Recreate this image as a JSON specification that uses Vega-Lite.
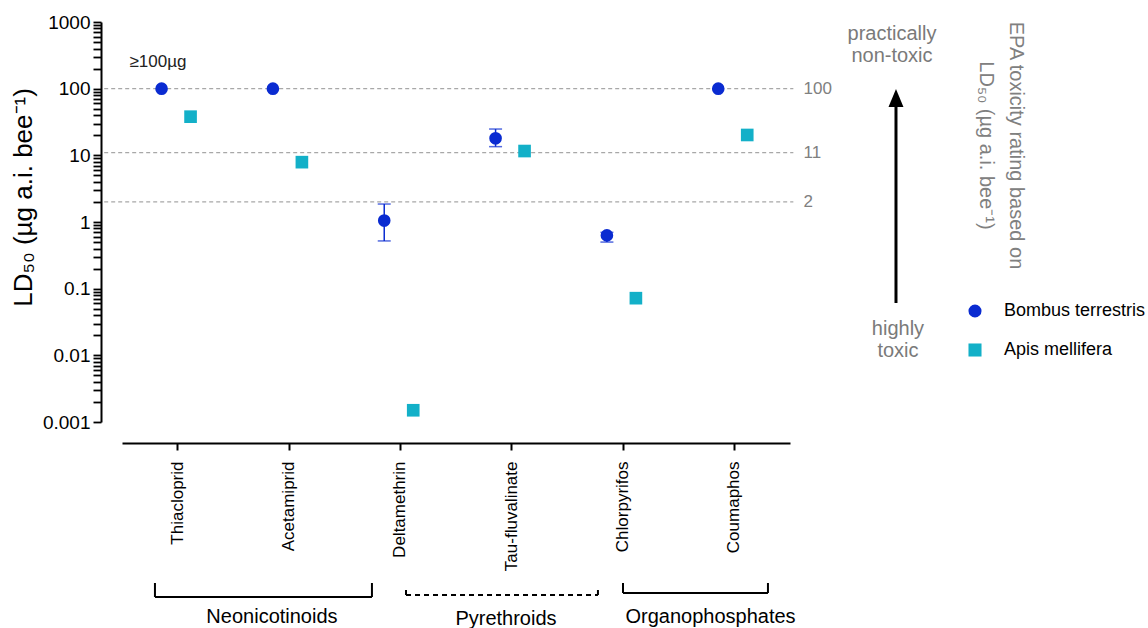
{
  "$schema": "https://vega.github.io/schema/vega-lite/v6.json",
  "width": 668,
  "height": 400,
  "autosize": {"type": "none"},
  "padding": {"left": 122, "top": 22, "right": 358, "bottom": 206},
  "background": "white",
  "config": {
    "view": {"stroke": null},
    "font": "Liberation Sans",
    "axis": {"labelFont": "Liberation Sans", "titleFont": "Liberation Sans"},
    "legend": {"labelFont": "Liberation Sans"},
    "text": {"font": "Liberation Sans"}
  },
  "datasets": {
    "ld50": [
      {"drug": "Thiacloprid", "species": "Bombus terrestris", "ld50": 100},
      {"drug": "Thiacloprid", "species": "Apis mellifera", "ld50": 38},
      {"drug": "Acetamiprid", "species": "Bombus terrestris", "ld50": 100},
      {"drug": "Acetamiprid", "species": "Apis mellifera", "ld50": 7.9},
      {"drug": "Deltamethrin", "species": "Bombus terrestris", "ld50": 1.05, "lo": 0.52, "hi": 1.86},
      {"drug": "Deltamethrin", "species": "Apis mellifera", "ld50": 0.0015},
      {"drug": "Tau-fluvalinate", "species": "Bombus terrestris", "ld50": 18, "lo": 13.5, "hi": 24.8},
      {"drug": "Tau-fluvalinate", "species": "Apis mellifera", "ld50": 11.6},
      {"drug": "Chlorpyrifos", "species": "Bombus terrestris", "ld50": 0.63, "lo": 0.5, "hi": 0.7},
      {"drug": "Chlorpyrifos", "species": "Apis mellifera", "ld50": 0.072},
      {"drug": "Coumaphos", "species": "Bombus terrestris", "ld50": 100},
      {"drug": "Coumaphos", "species": "Apis mellifera", "ld50": 20.2}
    ],
    "thresholds": [{"level": 100}, {"level": 11}, {"level": 2}],
    "brackets": [
      {"group": "Neonicotinoids", "style": "solid", "x1": 0.796, "x2": 2.745, "y1": 2.37e-6, "y2": 2.37e-6},
      {"group": "Neonicotinoids", "style": "solid", "x1": 0.796, "x2": 0.796, "y1": 2.37e-6, "y2": 3.85e-6},
      {"group": "Neonicotinoids", "style": "solid", "x1": 2.745, "x2": 2.745, "y1": 2.37e-6, "y2": 3.85e-6},
      {"group": "Pyrethroids", "style": "dashed", "x1": 3.051, "x2": 4.775, "y1": 2.54e-6, "y2": 2.54e-6},
      {"group": "Pyrethroids", "style": "dashed", "x1": 3.051, "x2": 3.051, "y1": 2.54e-6, "y2": 3.35e-6},
      {"group": "Pyrethroids", "style": "dashed", "x1": 4.775, "x2": 4.775, "y1": 2.54e-6, "y2": 3.35e-6},
      {"group": "Organophosphates", "style": "solid", "x1": 5.0, "x2": 6.302, "y1": 2.72e-6, "y2": 2.72e-6},
      {"group": "Organophosphates", "style": "solid", "x1": 5.0, "x2": 5.0, "y1": 2.72e-6, "y2": 3.85e-6},
      {"group": "Organophosphates", "style": "solid", "x1": 6.302, "x2": 6.302, "y1": 2.72e-6, "y2": 3.85e-6}
    ],
    "classes": [
      {"label": "Neonicotinoids", "x": 1.847, "y": 1.19e-6},
      {"label": "Pyrethroids", "x": 3.949, "y": 1.1e-6},
      {"label": "Organophosphates", "x": 5.786, "y": 1.19e-6}
    ],
    "toxicity": [
      {"label": "practically\nnon-toxic", "x": 7.416, "y": 661},
      {"label": "highly\ntoxic", "x": 7.47, "y": 0.0248}
    ],
    "arrow": [{"x": 7.452, "lo": 0.061, "hi": 60, "head": 72.4}],
    "note": [{"label": "≥100µg", "x": 0.823, "y": 251}]
  },
  "layer": [
    {
      "data": {"name": "thresholds"},
      "mark": {"type": "rule", "color": "#a8a8a8", "strokeWidth": 1.2, "strokeDash": [4, 3]},
      "encoding": {
        "x": {"datum": 0.34, "type": "quantitative", "scale": {"domain": [0.5, 6.5], "nice": false, "zero": false}, "axis": null},
        "x2": {"datum": 6.53},
        "y": {
          "field": "level", "type": "quantitative",
          "scale": {"type": "log", "domain": [0.001, 1000], "nice": false},
          "axis": {
            "orient": "right", "values": [100, 11, 2], "ticks": false, "tickSize": 0, "domain": false, "grid": false,
            "labelColor": "#808080", "labelFontSize": 17, "labelPadding": 13, "labelExpr": "format(datum.value, '~g')",
            "title": ["EPA toxicity rating based on", "LD₅₀ (µg a.i. bee⁻¹)"],
            "titleAngle": 90, "titleColor": "#808080", "titleFontSize": 20, "titleFontWeight": "normal",
            "titleAlign": "center", "titleBaseline": "top", "titleLineHeight": 30, "titleX": 235, "titleY": 123
          }
        }
      }
    },
    {
      "data": {"name": "ld50"},
      "encoding": {
        "x": {
          "field": "drug", "type": "nominal",
          "scale": {"domain": ["Thiacloprid", "Acetamiprid", "Deltamethrin", "Tau-fluvalinate", "Chlorpyrifos", "Coumaphos"], "paddingInner": 0, "paddingOuter": 0},
          "axis": {"title": null, "orient": "bottom", "offset": 21, "labelAngle": -90, "labelFontSize": 17, "labelColor": "black", "labelPadding": 11, "tickSize": 7, "tickWidth": 2, "tickColor": "black", "domainColor": "black", "domainWidth": 2, "grid": false}
        },
        "xOffset": {
          "field": "species", "type": "nominal",
          "scale": {"domain": ["Bombus terrestris", "Apis mellifera"], "paddingInner": 0, "paddingOuter": 0.92, "align": 0.47}
        }
      },
      "layer": [
        {
          "transform": [{"filter": "isValid(datum.lo)"}],
          "mark": {"type": "rule", "color": "#0a2bd1", "strokeWidth": 1.5},
          "encoding": {
            "y": {
              "field": "lo", "type": "quantitative",
              "scale": {"type": "log", "domain": [0.001, 1000], "nice": false},
              "axis": {
                "orient": "left", "offset": 21, "grid": false,
                "title": "LD₅₀ (µg a.i. bee⁻¹)", "titleFontSize": 26, "titleFontWeight": "normal", "titleColor": "black", "titlePadding": 6, "titleY": 175,
                "values": [0.001, 0.002, 0.003, 0.004, 0.005, 0.006, 0.007, 0.008, 0.009, 0.01, 0.02, 0.03, 0.04, 0.05, 0.06, 0.07, 0.08, 0.09, 0.1, 0.2, 0.3, 0.4, 0.5, 0.6, 0.7, 0.8, 0.9, 1, 2, 3, 4, 5, 6, 7, 8, 9, 10, 20, 30, 40, 50, 60, 70, 80, 90, 100, 200, 300, 400, 500, 600, 700, 800, 900, 1000],
                "labelExpr": "abs(log(datum.value)/LN10 - round(log(datum.value)/LN10)) < 0.001 ? format(datum.value, '~g') : ''",
                "labelFontSize": 19, "labelColor": "black", "labelPadding": 3, "labelOverlap": false, "labelFlush": false,
                "tickSize": 8,
                "tickWidth": 1.8, "tickColor": "black", "domainColor": "black", "domainWidth": 2,
                "encoding": {
                  "ticks": {
                    "update": {
                      "x2": {"signal": "abs(log(datum.value)/LN10 - round(log(datum.value)/LN10)) < 0.001 ? -8 : -4.5"}
                    }
                  }
                }
              }
            },
            "y2": {"field": "hi"}
          }
        },
        {
          "transform": [{"filter": "isValid(datum.lo)"}],
          "mark": {"type": "tick", "color": "#0a2bd1", "size": 13, "thickness": 1.5, "orient": "horizontal"},
          "encoding": {"y": {"field": "lo", "type": "quantitative", "scale": {"type": "log", "domain": [0.001, 1000], "nice": false}}}
        },
        {
          "transform": [{"filter": "isValid(datum.hi)"}],
          "mark": {"type": "tick", "color": "#0a2bd1", "size": 13, "thickness": 1.5, "orient": "horizontal"},
          "encoding": {"y": {"field": "hi", "type": "quantitative", "scale": {"type": "log", "domain": [0.001, 1000], "nice": false}}}
        },
        {
          "mark": {"type": "point", "filled": true, "opacity": 1, "size": 160},
          "encoding": {
            "y": {"field": "ld50", "type": "quantitative", "scale": {"type": "log", "domain": [0.001, 1000], "nice": false}},
            "color": {
              "field": "species", "type": "nominal",
              "scale": {"domain": ["Bombus terrestris", "Apis mellifera"], "range": ["#0a2bd1", "#13b0c8"]},
              "legend": {"orient": "none", "legendX": 844, "legendY": 280, "title": null, "labelFontSize": 18, "labelColor": "black", "symbolSize": 170, "labelOffset": 20, "rowPadding": 21}
            },
            "shape": {
              "field": "species", "type": "nominal",
              "scale": {"domain": ["Bombus terrestris", "Apis mellifera"], "range": ["circle", "square"]},
              "legend": {"orient": "none", "legendX": 844, "legendY": 280, "title": null, "labelFontSize": 18, "labelColor": "black", "symbolSize": 170, "labelOffset": 20, "rowPadding": 21}
            }
          }
        }
      ]
    },
    {
      "layer": [
        {
          "data": {"name": "brackets"},
          "mark": {"type": "rule", "color": "black", "strokeWidth": 2},
          "encoding": {
            "x": {"field": "x1", "type": "quantitative", "scale": {"domain": [0.5, 6.5], "nice": false, "zero": false}, "axis": null},
            "x2": {"field": "x2"},
            "y": {"field": "y1", "type": "quantitative", "scale": {"type": "log", "domain": [0.001, 1000], "nice": false}, "axis": null},
            "y2": {"field": "y2"},
            "strokeDash": {"field": "style", "type": "nominal", "scale": {"domain": ["solid", "dashed"], "range": [[1, 0], [5, 4]]}, "legend": null}
          }
        },
        {
          "data": {"name": "classes"},
          "mark": {"type": "text", "fontSize": 20, "color": "black", "baseline": "middle", "align": "center"},
          "encoding": {
            "x": {"field": "x", "type": "quantitative", "scale": {"domain": [0.5, 6.5], "nice": false, "zero": false}, "axis": null},
            "y": {"field": "y", "type": "quantitative", "scale": {"type": "log", "domain": [0.001, 1000], "nice": false}, "axis": null},
            "text": {"field": "label"}
          }
        },
        {
          "data": {"name": "toxicity"},
          "mark": {"type": "text", "fontSize": 20, "color": "#7a7a7a", "baseline": "middle", "align": "center", "lineBreak": "\n", "lineHeight": 22},
          "encoding": {
            "x": {"field": "x", "type": "quantitative", "scale": {"domain": [0.5, 6.5], "nice": false, "zero": false}, "axis": null},
            "y": {"field": "y", "type": "quantitative", "scale": {"type": "log", "domain": [0.001, 1000], "nice": false}, "axis": null},
            "text": {"field": "label"}
          }
        },
        {
          "data": {"name": "arrow"},
          "mark": {"type": "rule", "color": "black", "strokeWidth": 3},
          "encoding": {
            "x": {"field": "x", "type": "quantitative", "scale": {"domain": [0.5, 6.5], "nice": false, "zero": false}, "axis": null},
            "y": {"field": "lo", "type": "quantitative", "scale": {"type": "log", "domain": [0.001, 1000], "nice": false}, "axis": null},
            "y2": {"field": "hi"}
          }
        },
        {
          "data": {"name": "arrow"},
          "mark": {"type": "point", "filled": true, "opacity": 1, "color": "black", "shape": "M0,-1L0.83,1L-0.83,1Z", "size": 324},
          "encoding": {
            "x": {"field": "x", "type": "quantitative", "scale": {"domain": [0.5, 6.5], "nice": false, "zero": false}, "axis": null},
            "y": {"field": "head", "type": "quantitative", "scale": {"type": "log", "domain": [0.001, 1000], "nice": false}, "axis": null}
          }
        },
        {
          "data": {"name": "note"},
          "mark": {"type": "text", "fontSize": 17, "color": "#222222", "baseline": "middle", "align": "center"},
          "encoding": {
            "x": {"field": "x", "type": "quantitative", "scale": {"domain": [0.5, 6.5], "nice": false, "zero": false}, "axis": null},
            "y": {"field": "y", "type": "quantitative", "scale": {"type": "log", "domain": [0.001, 1000], "nice": false}, "axis": null},
            "text": {"field": "label"}
          }
        }
      ]
    }
  ],
  "resolve": {"scale": {"x": "independent"}, "axis": {"x": "independent", "y": "independent"}}
}
